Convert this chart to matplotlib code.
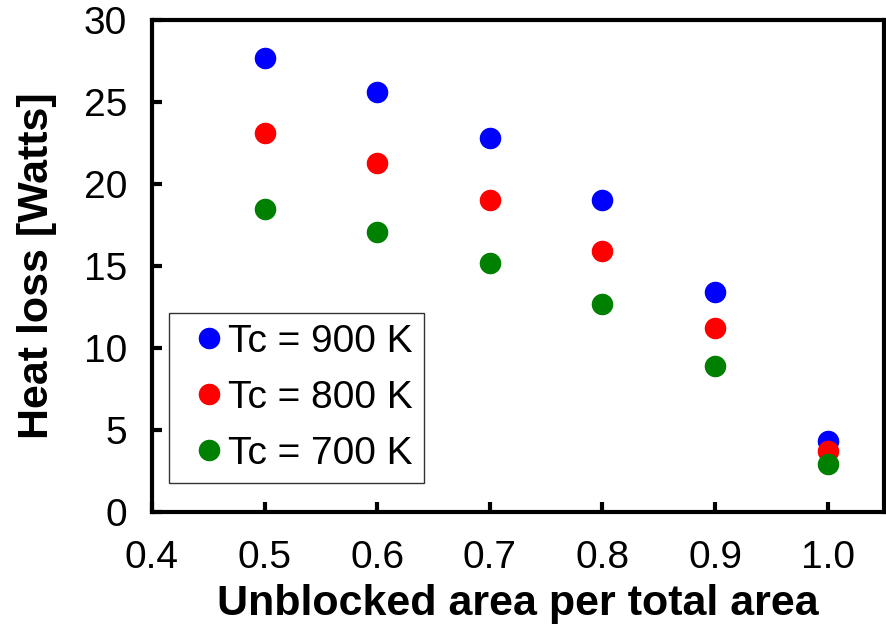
import matplotlib
matplotlib.use("Agg")
import matplotlib.pyplot as plt

# Data.
ratio = [0.5, 0.6, 0.7, 0.8, 0.9, 1.0]
loss_900 = [27.7, 25.6, 22.8, 19.0, 13.4, 4.3]
loss_800 = [23.1, 21.3, 19.0, 15.9, 11.2, 3.7]
loss_700 = [18.5, 17.1, 15.2, 12.7, 8.9, 2.9]
labels = ["Tc = 900 K", "Tc = 800 K", "Tc = 700 K"]
colors = ["blue", "red", "green"]

plt.rcParams["font.family"] = ["Liberation Sans", "DejaVu Sans"]

fig = plt.figure(figsize=(8.87, 6.31), dpi=100)
ax = fig.add_axes([152 / 887, 1 - 512 / 631, 732 / 887, 492 / 631])

for ys, lab, col in zip([loss_900, loss_800, loss_700], labels, colors):
    ax.plot(ratio, ys, "o", color=col, markersize=14.5, label=lab)

ax.set_xlim(0.4, 1.05)
ax.set_ylim(0, 30)
ax.set_xticks([0.4, 0.5, 0.6, 0.7, 0.8, 0.9, 1.0])
ax.set_xticklabels(["0.4", "0.5", "0.6", "0.7", "0.8", "0.9", "1.0"])
ax.set_yticks([0, 5, 10, 15, 20, 25, 30])

for s in ax.spines.values():
    s.set_linewidth(3)
ax.tick_params(direction="in", length=7, width=3, labelsize=28)
ax.tick_params(axis="x", pad=20)
ax.tick_params(axis="y", pad=18)

ax.set_xlabel("Unblocked area per total area", fontsize=31, fontweight="bold", labelpad=6)
ax.set_ylabel("Heat loss [Watts]", fontsize=31, fontweight="bold", labelpad=19)

leg = ax.legend(loc="lower left", bbox_to_anchor=(0.023, 0.059), borderaxespad=0,
                fontsize=28, frameon=True, fancybox=False, edgecolor="black",
                handletextpad=-0.25, handlelength=1.48, labelspacing=0.51,
                borderpad=0.29)
leg.get_frame().set_linewidth(1)

fig.savefig("out.png", dpi=100)
